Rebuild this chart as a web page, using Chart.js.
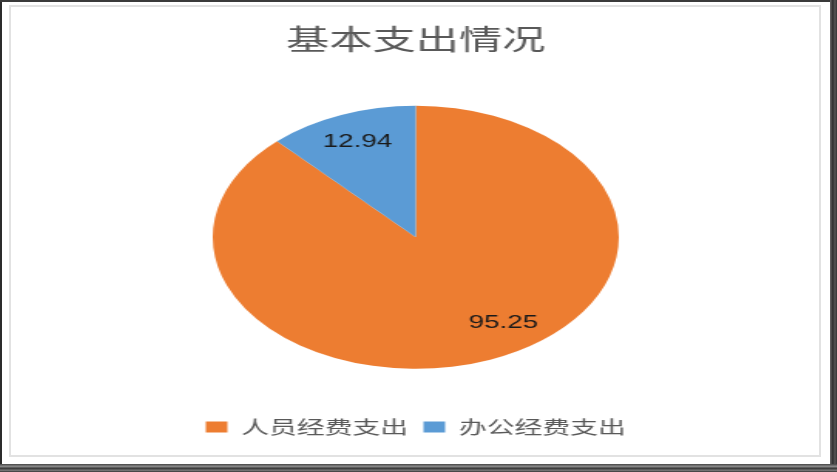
<!DOCTYPE html>
<html>
<head>
<meta charset="utf-8">
<script src="https://cdn.jsdelivr.net/npm/chart.js@4/dist/chart.umd.min.js"></script>
<style>
  html, body { margin: 0; padding: 0; background: #fff; }
  .frame { position: relative; width: 837px; height: 472px; overflow: hidden; background: #fff; }
  .edge-l { position: absolute; left: 0; top: 0; width: 2px; height: 472px; background: #2b2b2b; }
  .edge-t { position: absolute; left: 0; top: 0; width: 837px; height: 2px; background: #3a3a3a; }
  .edge-r { position: absolute; right: 0; top: 0; width: 7px; height: 472px;
            background: linear-gradient(to right, #6a6a6a, #2e2e2e 40%, #555 70%, #333); }
  .edge-b { position: absolute; left: 0; bottom: 0; width: 837px; height: 8px;
            background: linear-gradient(to bottom, #444, #8a8a8a 30%, #3a3a3a 55%, #777 80%, #333); }
  .inner { position: absolute; left: 9px; top: 5px; width: 808px; height: 448px; border: 2px solid #e2e2e2; }
  .chart-container { position: absolute; left: 12px; top: 0; width: 523px; height: 472px;
                     transform: scaleX(1.544); transform-origin: left top; }
</style>
</head>
<body>
<div class="frame">
  <div class="inner"></div>
  <div class="chart-container"><canvas id="pieChart"></canvas></div>
  <div class="edge-l"></div>
  <div class="edge-t"></div>
  <div class="edge-r"></div>
  <div class="edge-b"></div>
</div>
<script>
// 数据
var chartTitle = '基本支出情况';
var categories = ['人员经费支出', '办公经费支出'];
var amounts = [95.25, 12.94];
var sliceColors = ['#ED7D31', '#5B9BD5'];

document.addEventListener('DOMContentLoaded', function () {
    var ctx = document.getElementById('pieChart');

    // 扇区数值标签（Excel 风格，画在扇区内部）
    var sliceLabels = {
        id: 'sliceLabels',
        afterDatasetsDraw: function (chart, args, opts) {
            var c = chart.ctx;
            var meta = chart.getDatasetMeta(0);
            c.save();
            c.font = opts.font;
            c.fillStyle = opts.color;
            c.textAlign = 'center';
            c.textBaseline = 'middle';
            meta.data.forEach(function (arc, i) {
                var p = arc.getProps(['x', 'y', 'startAngle', 'endAngle', 'outerRadius'], true);
                var mid = (p.startAngle + p.endAngle) / 2 + (opts.shift[i] || 0) * Math.PI / 180;
                var r = p.outerRadius * opts.distance;
                c.fillText(chart.data.datasets[0].data[i].toFixed(2),
                    p.x + Math.cos(mid) * r, p.y + Math.sin(mid) * r);
            });
            c.restore();
        }
    };

    new Chart(ctx, {
        type: 'pie',
        data: {
            labels: categories,
            datasets: [{
                data: amounts,
                backgroundColor: sliceColors,
                borderWidth: 0,
                radius: 131.5
            }]
        },
        options: {
            responsive: true,
            maintainAspectRatio: false,
            animation: false,
            layout: { padding: { top: 0, bottom: 26, left: 0, right: 0 } },
            plugins: {
                title: {
                    display: true,
                    text: chartTitle,
                    color: '#595959',
                    font: { family: '"Noto Sans CJK SC", sans-serif', size: 28, weight: 'normal' },
                    padding: { top: 23, bottom: 10 }
                },
                legend: {
                    position: 'bottom',
                    labels: {
                        color: '#595959',
                        font: { family: '"Noto Sans CJK SC", sans-serif', size: 18 },
                        boxWidth: 14,
                        boxHeight: 11,
                        padding: 10
                    }
                },
                tooltip: { enabled: false },
                sliceLabels: {
                    font: '18px "Liberation Sans", Arial, sans-serif',
                    color: '#1a1a1a',
                    distance: 0.78,
                    shift: [-12, 0]
                }
            }
        },
        plugins: [sliceLabels]
    });
});
</script>
</body>
</html>
